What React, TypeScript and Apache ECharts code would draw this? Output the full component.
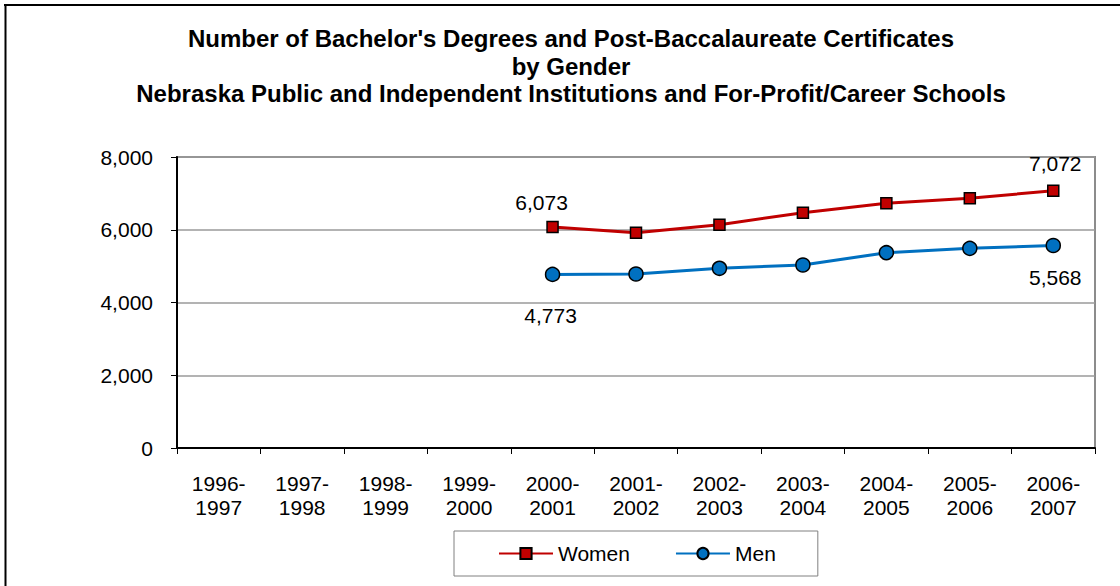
import React, { useEffect, useRef } from "react";
import * as echarts from "echarts";

const categories = [
  "1996-\n1997", "1997-\n1998", "1998-\n1999", "1999-\n2000", "2000-\n2001", "2001-\n2002",
  "2002-\n2003", "2003-\n2004", "2004-\n2005", "2005-\n2006", "2006-\n2007",
];
const women = [null, null, null, null, 6073, 5919, 6139, 6469, 6727, 6865, 7072];
const men = [null, null, null, null, 4773, 4783, 4940, 5031, 5369, 5489, 5568];
const yTicks = { min: 0, max: 8000, interval: 2000 };
const titleLines = [
  "Number of Bachelor's Degrees and Post-Baccalaureate Certificates",
  "by Gender",
  "Nebraska Public and Independent Institutions and For-Profit/Career Schools",
];

const FONT = "Arial, 'Liberation Sans', sans-serif";
const fmt = (v: number) => v.toLocaleString("en-US");

function labelled(data: (number | null)[], firstOffset: number[], lastOffset: number[]) {
  const firstIdx = data.findIndex((v) => v != null);
  const lastIdx = data.length - 1;
  return data.map((v, i) => {
    if (v == null) return null;
    if (i === firstIdx || i === lastIdx) {
      return {
        value: v,
        label: {
          show: true,
          position: "inside",
          offset: i === firstIdx ? firstOffset : lastOffset,
          formatter: (p: any) => fmt(p.value),
          color: "#000",
          fontSize: 21,
          fontFamily: FONT,
        },
      };
    }
    return v;
  });
}

export default function App() {
  const ref = useRef<HTMLDivElement>(null);
  useEffect(() => {
    if (!ref.current) return;
    const chart = echarts.init(ref.current, undefined, { renderer: "svg" });
    chart.setOption({
      animation: false,
      backgroundColor: "#fff",
      textStyle: { fontFamily: FONT },
      title: {
        text: titleLines.join("\n"),
        left: 566,
        textAlign: "center",
        top: 20,
        textStyle: { fontSize: 24, fontWeight: "bold", color: "#000", lineHeight: 27.5, fontFamily: FONT },
      },
      graphic: [
        { type: "line", shape: { x1: 5.5, y1: 4, x2: 5.5, y2: 600 }, style: { stroke: "#000", lineWidth: 2 } },
        { type: "line", shape: { x1: 4, y1: 5, x2: 1120, y2: 5 }, style: { stroke: "#000", lineWidth: 2 } },
      ],
      legend: {
        left: 454,
        top: 531,
        padding: [12, 42, 12, 44],
        borderColor: "#808080",
        borderWidth: 1,
        itemWidth: 54,
        itemHeight: 14,
        itemGap: 45,
        textStyle: { fontSize: 21, color: "#000", fontFamily: FONT },
        data: ["Women", "Men"],
      },
      grid: {
        left: 177,
        top: 157,
        right: 25,
        bottom: 138,
        show: true,
        borderColor: "#8c8c8c",
        borderWidth: 2,
      },
      xAxis: {
        type: "category",
        data: categories,
        boundaryGap: true,
        axisLine: { lineStyle: { color: "#000", width: 2 } },
        axisTick: { show: true, length: 6, lineStyle: { color: "#000", width: 1 } },
        axisLabel: { color: "#000", fontSize: 21, fontFamily: FONT, lineHeight: 24, margin: 23, interval: 0 },
      },
      yAxis: {
        type: "value",
        min: yTicks.min,
        max: yTicks.max,
        interval: yTicks.interval,
        axisLine: { show: true, lineStyle: { color: "#000", width: 2 } },
        axisTick: { show: true, length: 6, lineStyle: { color: "#000" } },
        axisLabel: { color: "#000", fontSize: 21, fontFamily: FONT, margin: 24, formatter: (v: number) => fmt(v) },
        splitLine: { show: true, lineStyle: { color: "#9a9a9a", width: 1.5 } },
      },
      series: [
        {
          name: "Women",
          type: "line",
          data: labelled(women, [-11, -25], [2, -27]),
          symbol: "rect",
          symbolSize: 11,
          lineStyle: { color: "#C00000", width: 3 },
          itemStyle: { color: "#C00000", borderColor: "#000", borderWidth: 1.5 },
          connectNulls: false,
        },
        {
          name: "Men",
          type: "line",
          data: labelled(men, [-2, 41], [2, 32]),
          symbol: "circle",
          symbolSize: 14,
          lineStyle: { color: "#0070C0", width: 3 },
          itemStyle: { color: "#0070C0", borderColor: "#000", borderWidth: 1.5 },
          connectNulls: false,
        },
      ],
    });
    return () => chart.dispose();
  }, []);
  return (
    <div
      ref={ref}
      style={{ position: "absolute", left: 0, top: 0, width: 1120, height: 586 }}
    />
  );
}
